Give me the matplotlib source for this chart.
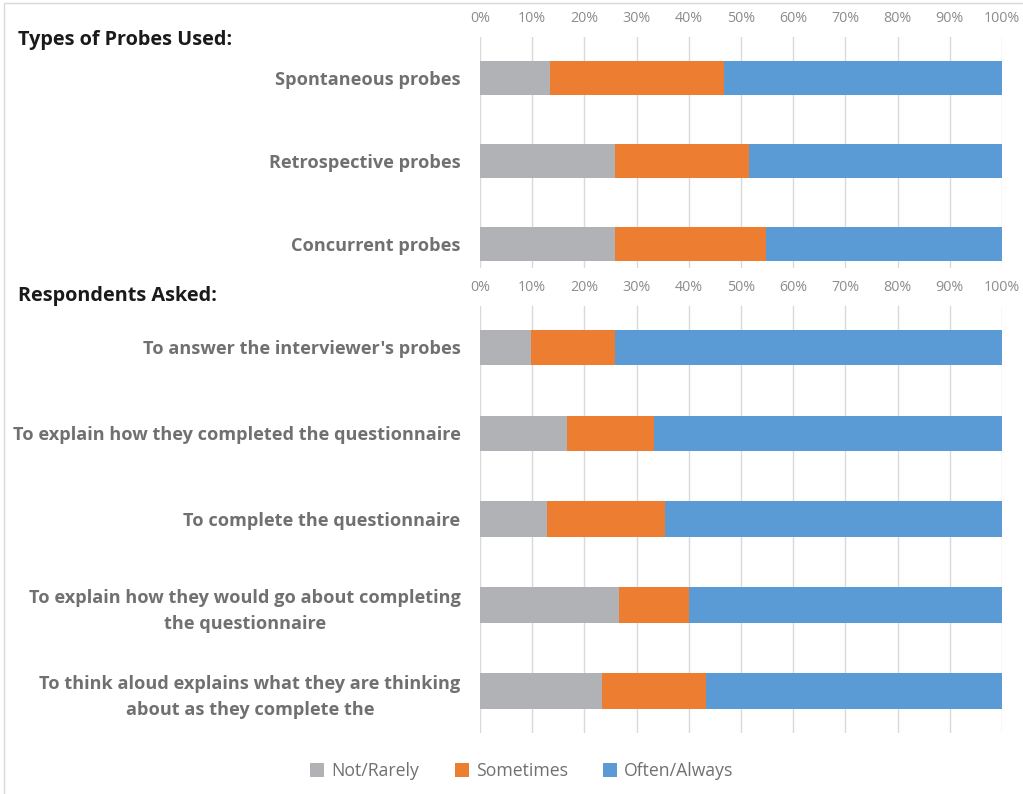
import matplotlib.pyplot as plt
import numpy as np
from matplotlib.patches import Rectangle, Patch
from matplotlib.ticker import PercentFormatter

# percentages per response level
probe_types = ['Spontaneous probes', 'Retrospective probes', 'Concurrent probes']
probe_rarely = [13.5, 25.8, 25.8]
probe_sometimes = [33.3, 25.8, 29.0]
probe_often = [53.2, 48.4, 45.2]

asked = ["To answer the interviewer's probes",
         'To explain how they completed the questionnaire',
         'To complete the questionnaire',
         'To explain how they would go about completing\nthe questionnaire',
         'To think aloud explains what they are thinking\nabout as they complete the']
asked_rarely = [9.7, 16.7, 12.9, 26.7, 23.3]
asked_sometimes = [16.1, 16.7, 22.6, 13.3, 20.0]
asked_often = [74.2, 66.6, 64.5, 60.0, 56.7]

levels = ['Not/Rarely', 'Sometimes', 'Often/Always']
colors = ['#B1B2B5', '#ED7D31', '#5B9BD5']

plt.rcParams['font.family'] = ['Open Sans', 'DejaVu Sans']

W, H = 1023, 794
fig = plt.figure(figsize=(W / 100, H / 100), dpi=100)

def px_axes(x0, y0, x1, y1):
    return fig.add_axes([x0 / W, 1 - y1 / H, (x1 - x0) / W, (y1 - y0) / H])

def stacked(ax, cats, series, ylim):
    y = np.arange(len(cats))
    left = np.zeros(len(cats))
    for vals, c in zip(series, colors):
        ax.barh(y, vals, left=left, height=0.41, color=c, zorder=2)
        left += np.array(vals)
    ax.set_xlim(0, 100)
    ax.set_ylim(*ylim)
    ax.set_xticks(np.arange(0, 101, 10))
    ax.xaxis.set_major_formatter(PercentFormatter(decimals=0))
    ax.xaxis.tick_top()
    ax.tick_params(axis='x', length=0, labelsize=10.3, labelcolor='#8C8C8C', pad=8)
    ax.set_yticks(y)
    ax.set_yticklabels(cats, fontsize=13.1, fontweight='bold', color='#707070',
                       multialignment='center', linespacing=1.55)
    ax.tick_params(axis='y', length=0, pad=14)
    ax.grid(axis='x', color='#D9D9D9', linewidth=1, zorder=0)
    for s in ax.spines.values():
        s.set_visible(False)

ax1 = px_axes(480, 37, 1002, 268)
stacked(ax1, probe_types, [probe_rarely, probe_sometimes, probe_often], (2.29, -0.49))

ax2 = px_axes(480, 306, 1002, 733)
stacked(ax2, asked, [asked_rarely, asked_sometimes, asked_often], (4.49, -0.48))

fig.text(18 / W, 1 - 40 / H, 'Types of Probes Used:', fontsize=14.3, fontweight='bold',
         color='#1A1A1A', va='center')
fig.text(18 / W, 1 - 296 / H, 'Respondents Asked:', fontsize=14.3, fontweight='bold',
         color='#1A1A1A', va='center')

handles = [Patch(facecolor=c, label=l) for c, l in zip(colors, levels)]
fig.legend(handles=handles, loc='center', bbox_to_anchor=(522 / W, 1 - 771 / H),
           ncol=3, frameon=False, fontsize=12.7, labelcolor='#707070',
           handlelength=0.8, handleheight=0.8, handletextpad=0.4, columnspacing=2.0)

# light frame round the whole chart
fig.patches.append(Rectangle((4 / W, -0.01), 1.02, 1 - 3 / H + 0.01,
                             transform=fig.transFigure, fill=False,
                             edgecolor='#D9D9D9', linewidth=1))

fig.savefig('out.png', dpi=100)
